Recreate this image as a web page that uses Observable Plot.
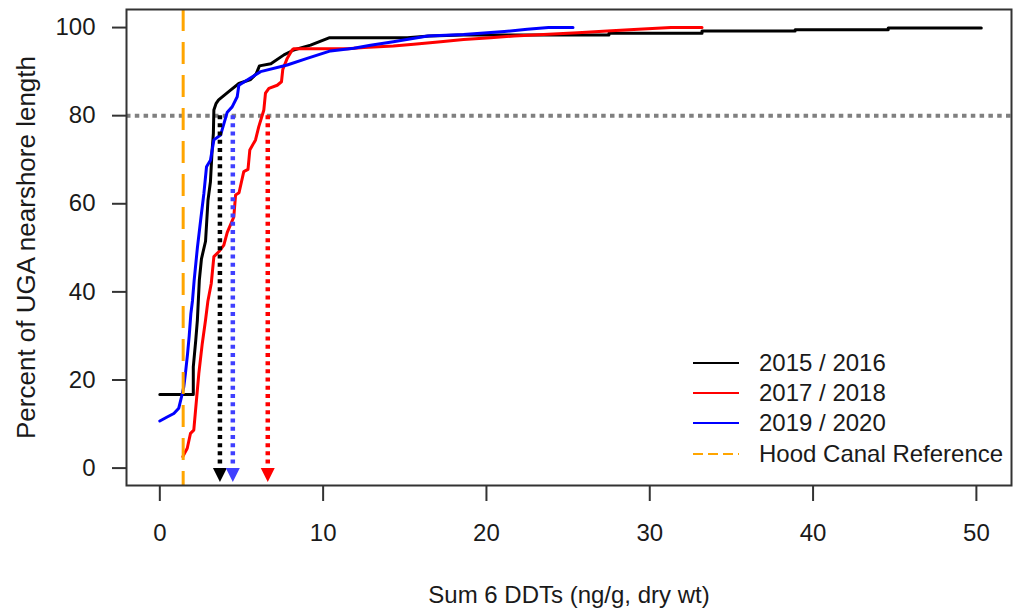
<!DOCTYPE html>
<html>
<head>
<meta charset="utf-8">
<script src="https://cdn.jsdelivr.net/npm/d3@7"></script>
<script src="https://cdn.jsdelivr.net/npm/@observablehq/plot@0.6"></script>
<style>
html, body { margin: 0; padding: 0; background: #fff; }
#wrap { position: relative; width: 1013px; height: 613px; font-family: "Liberation Sans", Arial, sans-serif; overflow: hidden; }
#wrap svg { display: block; }
.lg-row { position: absolute; display: flex; align-items: center; height: 30px; font-size: 24px; color: #1a1a1a; white-space: nowrap; }
.lg-row svg { margin-right: 20px; }
</style>
</head>
<body>
<div id="wrap"></div>
<script>
// ---- Data ----
const seriesNames = ["2015 / 2016", "2017 / 2018", "2019 / 2020"];
const seriesColors = ["#000000", "#ff0000", "#0000ff"];
const referenceName = "Hood Canal Reference";
const referenceColor = "#ffa500";

// 2015 / 2016 (black)
const x2015 = [0, 2.05, 2.05, 2.2, 2.3, 2.42, 2.55, 2.8, 2.95, 3.1, 3.2, 3.28, 3.31, 3.45, 3.6, 4.33, 4.84, 5.56, 5.9, 6.1, 6.8, 7.6, 8.2, 9.23, 10.4, 15.15, 16.5, 18.6, 27.5, 27.5, 33.2, 33.2, 38.9, 38.9, 44.6, 44.6, 50.3];
const y2015 = [16.7, 16.7, 23, 29, 33.6, 42.7, 47.5, 51.5, 60.8, 65, 72, 76, 81.3, 82.8, 83.6, 85.8, 87.3, 88.2, 89.5, 91.3, 91.8, 93.8, 94.9, 96, 97.7, 97.7, 98.1, 98.3, 98.3, 98.7, 98.7, 99.2, 99.2, 99.5, 99.5, 99.9, 99.9];

// 2017 / 2018 (red)
const x2017 = [1.41, 1.68, 1.88, 2.08, 2.19, 2.39, 2.6, 2.8, 2.94, 3.15, 3.31, 3.61, 3.92, 4.13, 4.3, 4.53, 4.64, 4.85, 5.14, 5.4, 5.51, 5.86, 6.06, 6.37, 6.47, 6.68, 7.19, 7.45, 7.53, 7.8, 8.1, 8.2, 11.5, 12.5, 14.3, 15.55, 17.2, 18.6, 20.25, 21.7, 23.5, 25.6, 27.4, 29.3, 31.3, 33.2];
const y2017 = [2.6, 4.5, 7.9, 8.6, 13.2, 21.5, 28.3, 33.6, 37.8, 41.9, 48, 49.1, 50.6, 53.5, 55, 57, 62, 62.5, 67.3, 67.8, 72.2, 74.5, 77.5, 81.3, 85.1, 86.2, 86.9, 87.7, 90.5, 93, 94.9, 95.2, 95.2, 95.5, 95.8, 96.2, 96.8, 97.3, 97.7, 98.1, 98.4, 98.8, 99.2, 99.6, 100, 100];

// 2019 / 2020 (blue)
const x2019 = [0, 0.45, 0.86, 1.16, 1.33, 1.47, 1.57, 1.7, 1.8, 1.9, 2.0, 2.1, 2.3, 2.5, 2.7, 2.86, 3.1, 3.31, 3.72, 4.13, 4.43, 4.74, 4.84, 5.35, 6.17, 7.8, 9.02, 10.45, 11.88, 12.9, 14.3, 16.4, 18.6, 21.1, 22.5, 23.8, 25.3];
const y2019 = [10.7, 11.6, 12.4, 13.6, 16.2, 18.5, 21.5, 26, 30, 35, 38, 42.5, 50, 56.3, 62.4, 68.4, 69.9, 74.5, 75.6, 80.8, 82, 84.3, 86.9, 88.1, 90, 91.5, 93, 94.7, 95.3, 96, 96.8, 98.1, 98.4, 99.1, 99.6, 100, 100];

const hoodCanal = 1.43;          // reference concentration (vertical dashed line)
const threshold = 80;            // percent line (horizontal dotted line)
const arrowX = [3.68, 6.61, 4.47];   // 80th-percentile concentrations: 2015/16, 2017/18, 2019/20
const arrowColors = ["#000000", "#ff0000", "#4040ff"];

const xTicks = [0, 10, 20, 30, 40, 50];
const yTicks = [0, 20, 40, 60, 80, 100];

const xTitle = "Sum 6 DDTs (ng/g, dry wt)";
const yTitle = "Percent of UGA nearshore length";

// ---- Build tables ----
const seriesData = [[x2015, y2015], [x2017, y2017], [x2019, y2019]].map(([xs, ys]) =>
  xs.map((x, i) => ({x, y: ys[i]}))
);

const triangleDown = {
  draw(ctx, size) {
    const r = Math.sqrt(size / Math.PI);
    ctx.moveTo(-r, -r);
    ctx.lineTo(r, -r);
    ctx.lineTo(0, r);
    ctx.closePath();
  }
};

const marks = [
  Plot.ruleY([threshold], {stroke: "#808080", strokeWidth: 4, strokeDasharray: "4.5 4.3"}),
  ...seriesData.map((d, i) => Plot.line(d, {x: "x", y: "y", stroke: seriesColors[i], strokeWidth: 3})),
  Plot.ruleX([hoodCanal], {stroke: referenceColor, strokeWidth: 3, strokeDasharray: "22 11"}),
  ...arrowX.map((ax, i) => Plot.ruleX([ax], {y1: threshold, y2: 0, stroke: arrowColors[i], strokeWidth: 4.5, strokeDasharray: "4 4.2"})),
  ...arrowX.map((ax, i) => Plot.dot([{x: ax, y: 0}], {x: "x", y: "y", symbol: triangleDown, r: 7, fill: arrowColors[i], stroke: "none", dy: 7})),
  Plot.frame({stroke: "#333", strokeWidth: 2}),
  Plot.axisX({ticks: xTicks, tickSize: 16, tickPadding: 22, stroke: "#333", strokeWidth: 2,
    label: xTitle, labelAnchor: "center", labelOffset: 117, labelArrow: "none"}),
  Plot.axisY({ticks: yTicks, tickSize: 14, tickPadding: 17, stroke: "#333", strokeWidth: 2, label: null}),
  Plot.axisY({ticks: [], tickSize: 0, fontSize: 26,
    label: yTitle, labelAnchor: "center", labelOffset: 110, labelArrow: "none"})
];

const chart = Plot.plot({
  width: 1013,
  height: 613,
  marginLeft: 126,
  marginRight: 2,
  marginTop: 9,
  marginBottom: 128,
  style: {fontFamily: "'Liberation Sans', Arial, sans-serif", fontSize: "24px", color: "#1a1a1a", background: "#fff"},
  x: {domain: [-2.04, 52.15]},
  y: {domain: [-3.95, 104.1]},
  marks
});

const wrap = document.getElementById("wrap");
wrap.appendChild(chart);

// ---- Legend (inside plot, bottom right, no box) ----
const legendItems = seriesNames.map((n, i) => ({name: n, color: seriesColors[i], dash: null}))
  .concat([{name: referenceName, color: referenceColor, dash: "10 5"}]);
const legendLeft = 693, legendTop = 348, legendStep = 30.2;
legendItems.forEach((it, i) => {
  const row = document.createElement("div");
  row.className = "lg-row";
  row.style.left = legendLeft + "px";
  row.style.top = (legendTop + i * legendStep) + "px";
  row.innerHTML = `<svg width="46" height="30"><line x1="0" x2="46" y1="15" y2="15" stroke="${it.color}" stroke-width="2"${it.dash ? ` stroke-dasharray="${it.dash}"` : ""}/></svg><span>${it.name}</span>`;
  wrap.appendChild(row);
});
</script>
</body>
</html>
